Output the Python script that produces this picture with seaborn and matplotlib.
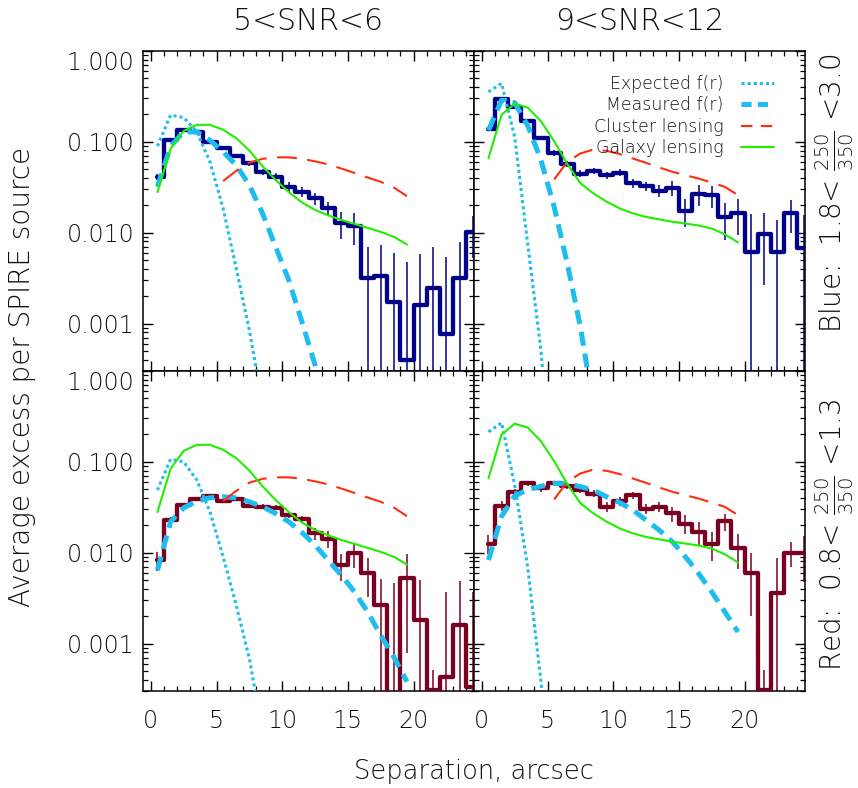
import numpy as np
import matplotlib
matplotlib.use("Agg")
import matplotlib.pyplot as plt
from matplotlib.lines import Line2D
from matplotlib.ticker import MultipleLocator, FixedLocator, FixedFormatter, LogLocator, NullFormatter
import seaborn as sns

# ---------------- data ----------------
r_bins = np.arange(0.5, 25.0, 1.0)          # bin centres [arcsec]
r_model = r_bins[:20]                       # model curves 0.5 .. 19.5
r_cluster = r_bins[5:20]                    # cluster lensing 5.5 .. 19.5

# histograms: average excess per SPIRE source
blue_snr56 = [0.041, 0.104, 0.135, 0.129, 0.100, 0.0845, 0.0696, 0.0578, 0.0468, 0.0412,
              0.032, 0.0282, 0.0238, 0.0185, 0.0128, 0.0118, 0.0032, 0.0033, 0.00173, 0.0004,
              0.00159, 0.00249, 0.00076, 0.0032, 0.0102]
blue_snr56_err = [0.003, 0.004, 0.004, 0.004, 0.004, 0.004, 0.004, 0.004, 0.004, 0.004,
                  0.0043, 0.0038, 0.0037, 0.0034, 0.0042, 0.0045, 0.0038, 0.0040, 0.0042, 0.0043,
                  0.0043, 0.0045, 0.0047, 0.0047, 0.005]
blue_snr912 = [0.137, 0.293, 0.240, 0.171, 0.111, 0.0757, 0.0568, 0.0445, 0.048, 0.043,
               0.0456, 0.0354, 0.0325, 0.0289, 0.0314, 0.0174, 0.0265, 0.0259, 0.0147, 0.0165,
               0.00615, 0.00964, 0.00615, 0.0165, 0.0067]
blue_snr912_err = [0.006, 0.008, 0.007, 0.006, 0.005, 0.005, 0.004, 0.004, 0.004, 0.004,
                   0.004, 0.004, 0.004, 0.0045, 0.0058, 0.0058, 0.007, 0.007, 0.0065, 0.007,
                   0.0101, 0.007, 0.0076, 0.0065, 0.009]
red_snr56 = [0.00826, 0.0228, 0.0333, 0.0394, 0.0419, 0.0372, 0.0394, 0.0328, 0.032, 0.0312,
             0.0259, 0.0234, 0.0163, 0.0143, 0.00728, 0.0098, 0.00604, 0.00264, 0.0001, 0.00528,
             0.0018, 0.000305, 0.00043, 0.00159, 0.00033]
red_snr56_err = [0.002, 0.002, 0.002, 0.002, 0.002, 0.002, 0.002, 0.002, 0.002, 0.002,
                 0.002, 0.002, 0.0025, 0.003, 0.0024, 0.003, 0.0028, 0.0025, 0.0045, 0.0045,
                 0.0032, 0.0002, 0.0033, 0.0033, 0.0034]
red_snr912 = [0.0126, 0.0326, 0.0468, 0.0578, 0.051, 0.0583, 0.0542, 0.0493, 0.0446, 0.032,
              0.0369, 0.043, 0.0306, 0.032, 0.027, 0.0209, 0.0169, 0.0126, 0.0222, 0.0113,
              0.0060, 0.000305, 0.00364, 0.010, 0.010]
red_snr912_err = [0.003, 0.004, 0.004, 0.004, 0.004, 0.004, 0.004, 0.004, 0.004, 0.004,
                  0.004, 0.004, 0.004, 0.004, 0.005, 0.005, 0.005, 0.0045, 0.0047, 0.0047,
                  0.004, 0.0002, 0.005, 0.003, 0.0053]

# expected and measured f(r)
expected_blue_snr56 = [0.0897, 0.197, 0.185, 0.129, 0.060, 0.0185, 0.00403, 0.00084, 0.00013]
measured_blue_snr56 = [0.032, 0.0897, 0.129, 0.129, 0.104, 0.0777, 0.0553, 0.0333, 0.0163,
                       0.00698, 0.0030, 0.00104, 0.00035, 0.00011]
expected_blue_snr912 = [0.355, 0.44, 0.113, 0.0073, 0.0005, 0.00001]
measured_blue_snr912 = [0.134, 0.288, 0.269, 0.15, 0.0628, 0.0193, 0.00457, 0.00092, 0.00012]
expected_red_snr56 = [0.0488, 0.107, 0.100, 0.063, 0.0282, 0.009, 0.00264, 0.00068, 0.000107]
measured_red_snr56 = [0.0064, 0.0219, 0.0312, 0.0369, 0.0402, 0.0412, 0.0402, 0.0363, 0.032, 0.027,
                      0.0219, 0.0167, 0.0121, 0.00826, 0.00565, 0.0037, 0.00223, 0.00123, 0.00071, 0.00038]
expected_red_snr912 = [0.214, 0.269, 0.0553, 0.0067, 0.00038, 0.00001]
measured_red_snr912 = [0.0083, 0.0252, 0.042, 0.0495, 0.0537, 0.0578, 0.0573, 0.0533, 0.0488, 0.0412,
                       0.0356, 0.0294, 0.0228, 0.0177, 0.0132, 0.009, 0.0059, 0.0037, 0.00223, 0.00134]

# lensing models
galaxy_snr56 = [0.028, 0.084, 0.132, 0.154, 0.154, 0.136, 0.11, 0.08, 0.054, 0.038,
                0.028, 0.0215, 0.0178, 0.0155, 0.0138, 0.0125, 0.0113, 0.0102, 0.009, 0.0074]
galaxy_snr912 = [0.066, 0.199, 0.263, 0.238, 0.168, 0.102, 0.057, 0.035, 0.027, 0.0219,
                 0.0185, 0.0163, 0.0149, 0.014, 0.0132, 0.0126, 0.012, 0.0111, 0.0096, 0.0078]
cluster_snr56 = [0.037, 0.048, 0.059, 0.065, 0.0675, 0.0675, 0.065, 0.061, 0.0565, 0.0508,
                 0.0455, 0.0405, 0.0363, 0.0314, 0.0252]
cluster_snr912 = [0.0385, 0.0602, 0.0745, 0.0824, 0.0796, 0.0733, 0.0655, 0.0587, 0.0522, 0.0468,
                  0.043, 0.0394, 0.0356, 0.0319, 0.0259]

col_titles = ["5<SNR<6", "9<SNR<12"]
row_labels = [r"Blue:  1.8< $\frac{250}{350}$ <3.0", r"Red:  0.8< $\frac{250}{350}$ <1.3"]
ytick_vals = [0.001, 0.01, 0.1, 1.0]
ytick_text = ["0.001", "0.010", "0.100", "1.000"]
legend_labels = ["Expected f(r)", "Measured f(r)", "Cluster lensing", "Galaxy lensing"]

# ---------------- style ----------------
sns.set_style("ticks")
plt.rcParams["font.family"] = ["DejaVu Sans"]
plt.rcParams["font.weight"] = "light"
plt.rcParams["mathtext.fontset"] = "dejavusans"
plt.rcParams["axes.linewidth"] = 1.1

NAVY = "#000088"
MAROON = "#7a0022"
LBLUE = "#1ebdf0"
RED = "#ff2d0d"
GREEN = "#22ee00"
TXT = "#111111"

fig = plt.figure(figsize=(8.58, 7.88), dpi=100)
gs = fig.add_gridspec(2, 2, left=143 / 858, right=805 / 858, top=1 - 51 / 788,
                      bottom=1 - 691 / 788, wspace=0, hspace=0)

panels = [
    [(blue_snr56, blue_snr56_err, NAVY, expected_blue_snr56, measured_blue_snr56, galaxy_snr56, cluster_snr56),
     (blue_snr912, blue_snr912_err, NAVY, expected_blue_snr912, measured_blue_snr912, galaxy_snr912, cluster_snr912)],
    [(red_snr56, red_snr56_err, MAROON, expected_red_snr56, measured_red_snr56, galaxy_snr56, cluster_snr56),
     (red_snr912, red_snr912_err, MAROON, expected_red_snr912, measured_red_snr912, galaxy_snr912, cluster_snr912)],
]

for i in range(2):
    for j in range(2):
        ax = fig.add_subplot(gs[i, j])
        hist, err, col, expd, meas, gal, clu = panels[i][j]
        hist = np.asarray(hist)
        err = np.asarray(err)
        ax.set_yscale("log")
        ax.set_xlim(-0.6, 24.6)
        ax.set_ylim(3e-4, 1.0)

        lo = np.clip(hist - err, 1e-7, None)
        ax.vlines(r_bins, lo, hist + err, color=col, lw=1.1, zorder=2)
        sns.lineplot(x=r_bins, y=hist, ax=ax, color=col, lw=3.1, drawstyle="steps-mid",
                     estimator=None, sort=False, zorder=3)
        sns.lineplot(x=r_bins[:len(expd)], y=expd, ax=ax, color=LBLUE, lw=2.2,
                     linestyle=(0, (1.0, 1.0)), estimator=None, sort=False, zorder=4)
        sns.lineplot(x=r_bins[:len(meas)], y=meas, ax=ax, color=LBLUE, lw=3.6,
                     linestyle=(0, (2.8, 1.6)), estimator=None, sort=False, zorder=4)
        sns.lineplot(x=r_cluster, y=clu, ax=ax, color=RED, lw=1.5,
                     linestyle=(0, (9.5, 5.0)), estimator=None, sort=False, zorder=5)
        sns.lineplot(x=r_model, y=gal, ax=ax, color=GREEN, lw=1.5,
                     estimator=None, sort=False, zorder=5)
        if ax.get_legend() is not None:
            ax.get_legend().remove()

        ax.set_xlabel("")
        ax.set_ylabel("")
        ax.xaxis.set_major_locator(MultipleLocator(5))
        ax.xaxis.set_minor_locator(MultipleLocator(1))
        ax.yaxis.set_major_locator(FixedLocator(ytick_vals))
        ax.yaxis.set_major_formatter(FixedFormatter(ytick_text))
        ax.yaxis.set_minor_locator(LogLocator(base=10, subs=np.arange(2, 10)))
        ax.yaxis.set_minor_formatter(NullFormatter())
        ax.tick_params(which="both", direction="in", top=True, right=True,
                       colors="black", labelcolor=TXT, labelsize=17)
        ax.tick_params(which="major", length=7.5, width=1.0)
        ax.tick_params(which="minor", length=3.8, width=0.9)
        ax.tick_params(axis="x", pad=13)
        ax.tick_params(axis="y", pad=6)
        for s in ax.spines.values():
            s.set_color("black")
            s.set_linewidth(1.1)
        if j == 1:
            ax.tick_params(labelleft=False)
        if i == 0:
            ax.tick_params(labelbottom=False)
        if j == 0:
            for lab in ax.get_yticklabels():
                if lab.get_text() == "1.000":
                    lab.set_verticalalignment("top")
        if i == 0 and j == 1:
            proxies = [
                Line2D([], [], color=LBLUE, lw=2.2, linestyle=(0, (1.0, 1.0))),
                Line2D([], [], color=LBLUE, lw=3.6, linestyle=(0, (2.0, 1.3))),
                Line2D([], [], color=RED, lw=1.5, linestyle=(0, (5.5, 4.0))),
                Line2D([], [], color=GREEN, lw=1.5),
            ]
            leg = ax.legend(proxies, legend_labels, loc="upper right",
                            bbox_to_anchor=(0.905, 0.925), frameon=False, markerfirst=False,
                            fontsize=12.5, handlelength=1.9, handletextpad=1.0,
                            labelspacing=0.2, borderpad=0.0, borderaxespad=0.0)
            for t in leg.get_texts():
                t.set_color(TXT)

# titles and labels
fig.text(308.5 / 858, 1 - 22 / 788, col_titles[0], ha="center", va="center", fontsize=21.5, color=TXT)
fig.text(639.5 / 858, 1 - 22 / 788, col_titles[1], ha="center", va="center", fontsize=21.5, color=TXT)
fig.text(474 / 858, 1 - 771 / 788, "Separation, arcsec", ha="center", va="center", fontsize=18.5, color=TXT)
fig.text(22 / 858, 1 - 377 / 788, "Average excess per SPIRE source", ha="center", va="center",
         rotation=90, fontsize=20, color=TXT)
fig.text(835 / 858, 1 - 193 / 788, row_labels[0], ha="center", va="center", rotation=90,
         fontsize=20, color=TXT)
fig.text(835 / 858, 1 - 535 / 788, row_labels[1], ha="center", va="center", rotation=90,
         fontsize=20, color=TXT)

fig.savefig("out.png", dpi=100)
